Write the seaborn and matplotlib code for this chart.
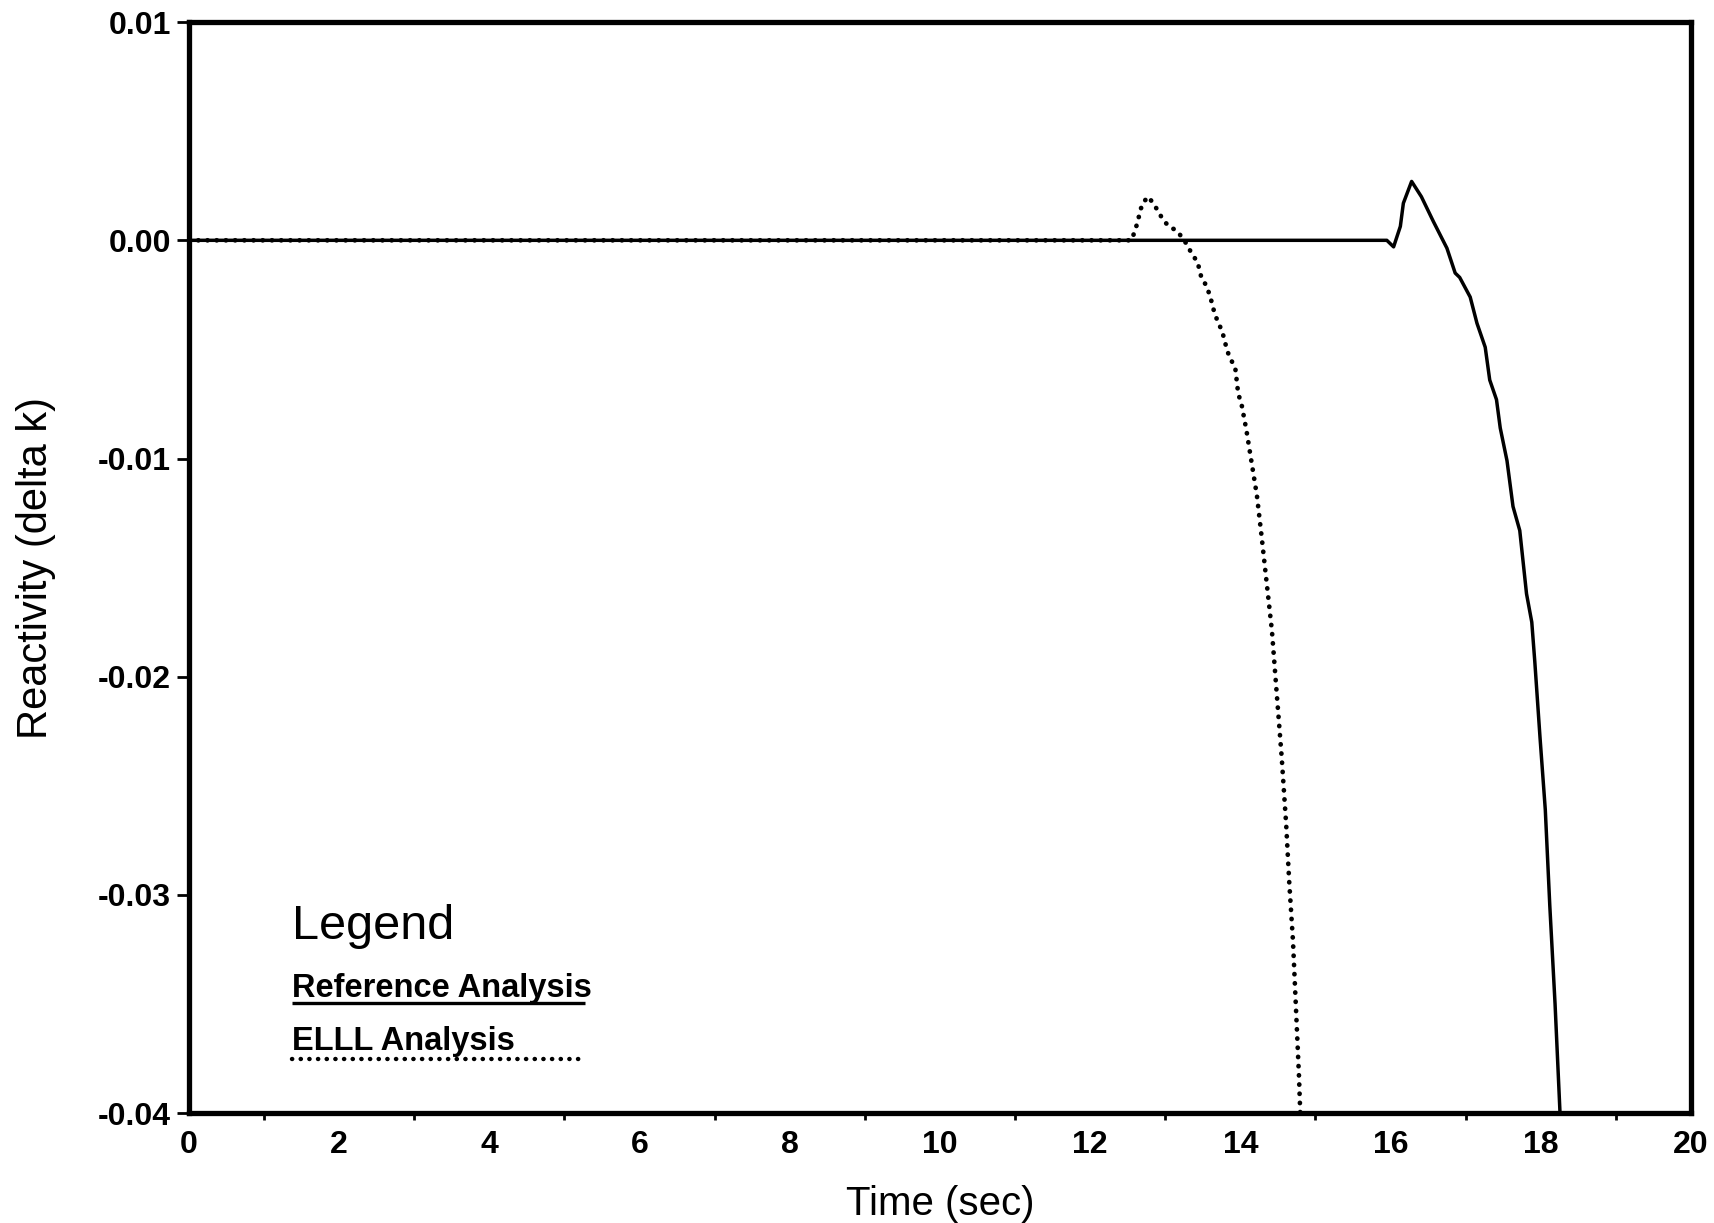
import matplotlib
matplotlib.use("Agg")
import matplotlib.pyplot as plt
import seaborn as sns
import pandas as pd
from matplotlib.ticker import MultipleLocator, FixedLocator

# ---- data ----
t_ref = [0.0, 15.95, 16.04, 16.13, 16.17, 16.28, 16.41, 16.57, 16.75, 16.86, 16.92,
         17.06, 17.15, 17.26, 17.32, 17.41, 17.46, 17.55, 17.63, 17.72, 17.81,
         17.88, 17.92, 17.99, 18.06, 18.12, 18.19, 18.26]
r_ref = [0.0, 0.0, -0.0003, 0.00064, 0.0017, 0.0027, 0.0020, 0.00086, -0.00036, -0.0015, -0.0017,
         -0.0026, -0.0038, -0.0049, -0.0064, -0.0073, -0.0086, -0.0101, -0.0122, -0.0133, -0.0162,
         -0.0175, -0.0193, -0.0228, -0.0261, -0.0305, -0.0350, -0.0403]

t_ell = [0.0, 12.55, 12.60, 12.64, 12.66, 12.70, 12.77, 12.84, 12.91, 12.97, 13.05,
         13.15, 13.22, 13.29, 13.35, 13.43, 13.48, 13.55, 13.60, 13.66, 13.71,
         13.76, 13.82, 13.86, 13.93, 13.97, 14.02, 14.08, 14.15, 14.22, 14.28,
         14.35, 14.42, 14.48, 14.55, 14.61, 14.65, 14.70, 14.74, 14.78, 14.80]
r_ell = [0.0, 0.0, 0.00048, 0.00094, 0.0013, 0.0017, 0.0020, 0.0017, 0.0013, 0.00094, 0.00063,
         0.00045, 0.00015, -0.0002, -0.0006, -0.0010, -0.0017, -0.0021, -0.0026, -0.0034, -0.0038,
         -0.0042, -0.0050, -0.0054, -0.0058, -0.0070, -0.0076, -0.0087, -0.0102, -0.0117, -0.0135,
         -0.0157, -0.0179, -0.0206, -0.0237, -0.0268, -0.0294, -0.0321, -0.0352, -0.0383, -0.0403]

x_ticks = [0, 2, 4, 6, 8, 10, 12, 14, 16, 18, 20]
y_ticks = [-0.04, -0.03, -0.02, -0.01, 0.00, 0.01]
y_tick_labels = ["-0.04", "-0.03", "-0.02", "-0.01", "0.00", "0.01"]
x_label = "Time (sec)"
y_label = "Reactivity (delta k)"
legend_title = "Legend"
series_names = ["Reference Analysis", "ELLL Analysis"]

df_ref = pd.DataFrame({"t": t_ref, "r": r_ref})
df_ell = pd.DataFrame({"t": t_ell, "r": r_ell})

sns.set_theme(style="white")
plt.rcParams["font.family"] = ["Liberation Sans", "DejaVu Sans"]
plt.rcParams["axes.unicode_minus"] = False
for key in ["text.color", "axes.labelcolor", "xtick.color", "ytick.color", "axes.edgecolor"]:
    plt.rcParams[key] = "black"

DOTS = (0, (0.05, 1.9))

fig = plt.figure(figsize=(17.15, 12.23), dpi=100)
ax = fig.add_axes([0.1102, 0.0899, 0.8758, 0.892])

sns.lineplot(data=df_ref, x="t", y="r", ax=ax, color="black", linewidth=2.5,
             sort=False, estimator=None)
sns.lineplot(data=df_ell, x="t", y="r", ax=ax, color="black", linewidth=3.4,
             sort=False, estimator=None, linestyle=DOTS)
for ln in ax.get_lines()[1:]:
    ln.set_dash_capstyle("round")

ax.set_xlim(0, 20)
ax.set_ylim(-0.04, 0.01)

ax.xaxis.set_major_locator(FixedLocator(x_ticks))
ax.xaxis.set_minor_locator(MultipleLocator(1))
ax.set_xticklabels([str(v) for v in x_ticks])
ax.yaxis.set_major_locator(FixedLocator(y_ticks))
ax.set_yticklabels(y_tick_labels)

ax.tick_params(axis="x", which="major", direction="out", length=10, width=2.2,
               color="black", pad=2, labelsize=23, labelcolor="black")
ax.tick_params(axis="x", which="minor", direction="out", length=5, width=2.0,
               color="black", bottom=True)
ax.tick_params(axis="y", which="major", direction="out", length=9, width=2.0,
               color="black", pad=4, labelsize=23, left=True, labelcolor="black")
for lab in ax.get_xticklabels() + ax.get_yticklabels():
    lab.set_fontweight("bold")

for sp in ax.spines.values():
    sp.set_visible(True)
    sp.set_color("black")
    sp.set_linewidth(3.8)

ax.set_xlabel(x_label, fontsize=29, labelpad=18, color="black")
ax.set_ylabel(y_label, fontsize=30, labelpad=30, color="black")

# legend block drawn inside the axes as in the original
ax.text(0.0686, 0.160, legend_title, transform=ax.transAxes, fontsize=35,
        ha="left", va="baseline", color="black")
ax.text(0.0686, 0.106, series_names[0], transform=ax.transAxes, fontsize=23.5,
        fontweight="bold", ha="left", va="baseline", color="black")
ax.plot([0.0686, 0.2636], [0.1005, 0.1005], transform=ax.transAxes,
        color="black", linewidth=2.4, solid_capstyle="butt")
ax.text(0.0686, 0.0577, series_names[1], transform=ax.transAxes, fontsize=23.5,
        fontweight="bold", ha="left", va="baseline", color="black")
ax.plot([0.0686, 0.2636], [0.0495, 0.0495], transform=ax.transAxes,
        color="black", linewidth=3.2, linestyle=DOTS, dash_capstyle="round")

ax.grid(False)
fig.savefig("out.png", dpi=100, facecolor="white")
